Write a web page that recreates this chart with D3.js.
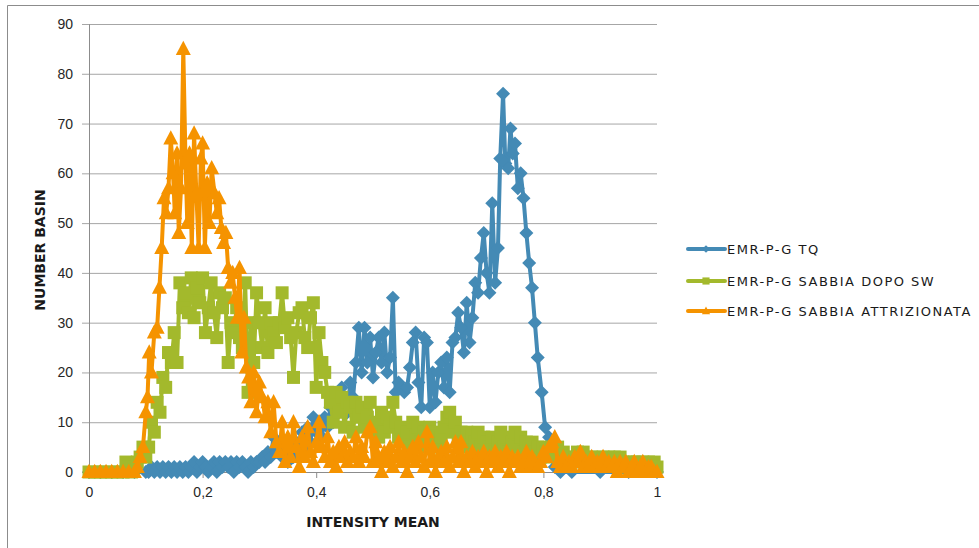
<!DOCTYPE html>
<html>
<head>
<meta charset="utf-8">
<script src="https://cdn.jsdelivr.net/npm/d3@7"></script>
<style>
  html, body { margin: 0; padding: 0; background: #fff; }
  svg { display: block; font-family: "DejaVu Sans", Verdana, sans-serif; }
</style>
</head>
<body>
<div id="chart"></div>
<script>
// ===========================
// Intensity mean vs number of basins, three samples
// ===========================

const seriesNames = ['EMR-P-G TQ', 'EMR-P-G SABBIA DOPO SW', 'EMR-P-G SABBIA ATTRIZIONATA'];
const xTicks = [0, 0.2, 0.4, 0.6, 0.8, 1];
const yTicks = [0, 10, 20, 30, 40, 50, 60, 70, 80, 90];

// [intensity mean, number of basins]
const tqData = [
    [0,0],[0.02,0],[0.04,0],[0.06,0],[0.08,0],[0.1,0],[0.105,0],[0.11,1],[0.115,0],[0.12,1],
    [0.125,0],[0.13,1],[0.135,0],[0.14,1],[0.145,0],[0.15,1],[0.155,0],[0.16,1],[0.165,0],[0.17,1],
    [0.175,0],[0.18,1],[0.185,2],[0.19,0],[0.195,1],[0.2,2],[0.205,1],[0.21,0],[0.215,1],[0.22,2],
    [0.225,0],[0.23,2],[0.235,1],[0.24,2],[0.245,1],[0.25,2],[0.255,0],[0.26,2],[0.265,1],[0.27,2],
    [0.275,1],[0.28,0],[0.285,2],[0.29,1],[0.295,2],[0.3,2],[0.305,3],[0.31,2],[0.315,4],[0.32,3],
    [0.325,7],[0.33,4],[0.335,5],[0.34,3],[0.345,4],[0.35,2],[0.355,5],[0.36,3],[0.365,6],[0.37,4],
    [0.375,8],[0.38,5],[0.385,9],[0.39,6],[0.395,11],[0.4,8],[0.405,10],[0.41,7],[0.415,11],[0.42,9],
    [0.425,13],[0.43,10],[0.435,15],[0.44,12],[0.445,17],[0.45,14],[0.455,12],[0.46,18],[0.465,15],[0.47,22],
    [0.475,29],[0.48,20],[0.485,29],[0.49,22],[0.495,27],[0.5,19],[0.505,24],[0.51,27],[0.515,22],[0.52,28],
    [0.525,20],[0.53,23],[0.535,35],[0.54,16],[0.545,18],[0.55,17],[0.555,16],[0.56,17],[0.565,21],[0.57,26],
    [0.575,28],[0.58,18],[0.585,13],[0.59,27],[0.595,26],[0.6,13],[0.605,20],[0.61,14],[0.615,20],[0.62,22],
    [0.625,17],[0.63,23],[0.635,16],[0.64,26],[0.645,27],[0.65,32],[0.655,29],[0.66,24],[0.665,34],[0.67,26],
    [0.675,31],[0.68,38],[0.685,36],[0.69,43],[0.695,48],[0.7,40],[0.705,36],[0.71,54],[0.715,38],[0.72,45],
    [0.724,63],[0.729,76],[0.733,62],[0.738,61],[0.742,69],[0.746,64],[0.75,66],[0.755,57],[0.76,60],[0.765,55],
    [0.77,48],[0.775,42],[0.78,37],[0.785,30],[0.79,23],[0.797,16],[0.803,9],[0.81,7],[0.815,3],[0.82,1],
    [0.83,0],[0.85,0],[0.9,0],[0.95,0],[1,0]
];

const dopoSwData = [
    [0,0],[0.01,0],[0.02,0],[0.03,0],[0.04,0],[0.05,0],[0.06,0],[0.065,2],[0.07,1],[0.075,0],
    [0.08,1],[0.085,2],[0.09,3],[0.095,5],[0.1,3],[0.105,5],[0.11,10],[0.115,8],[0.12,14],[0.125,12],
    [0.13,19],[0.135,17],[0.14,24],[0.145,22],[0.15,28],[0.155,22],[0.16,38],[0.165,33],[0.17,36],[0.175,32],
    [0.18,39],[0.185,31],[0.19,37],[0.195,34],[0.2,39],[0.205,28],[0.21,33],[0.215,38],[0.22,32],[0.225,27],
    [0.23,36],[0.235,33],[0.24,35],[0.245,22],[0.25,30],[0.255,28],[0.26,33],[0.265,27],[0.27,25],[0.275,38],
    [0.28,16],[0.285,30],[0.29,22],[0.295,36],[0.3,30],[0.305,25],[0.31,33],[0.315,24],[0.32,30],[0.325,28],
    [0.33,26],[0.335,30],[0.34,36],[0.345,29],[0.35,31],[0.355,27],[0.36,19],[0.365,28],[0.37,32],[0.375,33],
    [0.38,27],[0.385,25],[0.39,31],[0.395,34],[0.4,17],[0.405,28],[0.41,22],[0.415,20],[0.42,16],[0.425,14],
    [0.43,10],[0.435,16],[0.44,12],[0.445,15],[0.45,9],[0.455,14],[0.46,13],[0.465,8],[0.47,14],[0.475,11],
    [0.48,13],[0.485,9],[0.49,11],[0.495,14],[0.5,8],[0.505,10],[0.51,7],[0.515,12],[0.52,8],[0.525,11],
    [0.53,9],[0.535,14],[0.54,10],[0.545,7],[0.55,9],[0.555,6],[0.56,8],[0.565,5],[0.57,10],[0.575,7],
    [0.58,9],[0.585,6],[0.59,8],[0.595,5],[0.6,9],[0.605,6],[0.61,8],[0.615,5],[0.62,7],[0.625,9],
    [0.63,11],[0.635,12],[0.64,8],[0.645,10],[0.65,7],[0.655,8],[0.66,6],[0.665,8],[0.67,5],[0.675,7],
    [0.68,6],[0.685,8],[0.69,5],[0.695,7],[0.7,6],[0.705,5],[0.71,7],[0.715,4],[0.72,6],[0.725,8],
    [0.73,5],[0.735,7],[0.74,4],[0.745,6],[0.75,8],[0.755,5],[0.76,7],[0.765,4],[0.77,6],[0.775,5],
    [0.78,6],[0.785,4],[0.79,5],[0.795,3],[0.8,5],[0.805,4],[0.81,3],[0.815,5],[0.82,4],[0.825,5],
    [0.83,3],[0.835,4],[0.84,2],[0.845,3],[0.85,2],[0.855,3],[0.86,4],[0.865,3],[0.87,4],[0.875,3],
    [0.88,2],[0.885,3],[0.89,2],[0.895,3],[0.9,2],[0.905,3],[0.91,2],[0.915,3],[0.92,2],[0.925,3],
    [0.93,2],[0.935,3],[0.94,2],[0.945,1],[0.95,2],[0.955,1],[0.96,2],[0.965,2],[0.97,1],[0.975,2],
    [0.98,1],[0.985,2],[0.99,1],[0.995,2],[1,1]
];

const attrizionataData = [
    [0,0],[0.01,0],[0.02,0],[0.03,0],[0.04,0],[0.05,0],[0.06,0],[0.07,0],[0.08,0],[0.085,1],
    [0.09,3],[0.095,5],[0.1,12],[0.103,15],[0.106,24],[0.11,20],[0.115,28],[0.12,29],[0.124,37],[0.128,45],
    [0.132,55],[0.136,52],[0.14,57],[0.144,67],[0.148,60],[0.151,52],[0.155,64],[0.158,48],[0.162,57],[0.166,85],
    [0.17,62],[0.173,50],[0.177,64],[0.181,45],[0.185,68],[0.189,56],[0.193,45],[0.197,63],[0.2,66],[0.204,45],
    [0.208,58],[0.212,50],[0.216,61],[0.221,56],[0.225,52],[0.229,55],[0.233,49],[0.237,46],[0.241,48],[0.245,41],
    [0.249,38],[0.253,40],[0.257,35],[0.261,31],[0.265,41],[0.269,24],[0.273,31],[0.277,21],[0.281,19],[0.285,14],
    [0.29,20],[0.295,12],[0.3,18],[0.305,15],[0.31,11],[0.315,14],[0.32,8],[0.325,14],[0.33,6],[0.335,4],
    [0.34,10],[0.345,2],[0.35,7],[0.355,3],[0.36,10],[0.365,5],[0.37,1],[0.375,7],[0.38,3],[0.385,9],
    [0.39,4],[0.395,2],[0.4,6],[0.405,10],[0.41,5],[0.415,3],[0.42,7],[0.425,2],[0.43,4],[0.435,1],
    [0.44,5],[0.445,3],[0.45,6],[0.455,2],[0.46,4],[0.465,3],[0.47,7],[0.475,2],[0.48,5],[0.485,3],
    [0.49,8],[0.495,9],[0.5,2],[0.505,6],[0.51,3],[0.515,0],[0.52,4],[0.525,2],[0.53,5],[0.535,1],
    [0.54,3],[0.545,6],[0.55,2],[0.555,4],[0.56,0],[0.565,3],[0.57,5],[0.575,2],[0.58,6],[0.585,3],
    [0.59,1],[0.595,8],[0.6,2],[0.605,5],[0.61,0],[0.615,3],[0.62,4],[0.625,2],[0.63,5],[0.635,1],
    [0.64,3],[0.645,6],[0.65,2],[0.655,6],[0.66,0],[0.665,3],[0.67,2],[0.675,4],[0.68,1],[0.685,3],
    [0.69,2],[0.695,4],[0.7,0],[0.705,3],[0.71,2],[0.715,4],[0.72,1],[0.725,3],[0.73,2],[0.735,4],
    [0.74,0],[0.745,3],[0.75,2],[0.755,3],[0.76,1],[0.765,2],[0.77,4],[0.775,1],[0.78,3],[0.785,2],
    [0.79,1],[0.795,2],[0.8,4],[0.805,3],[0.81,5],[0.815,6],[0.82,7],[0.825,2],[0.83,1],[0.835,3],
    [0.84,1],[0.845,2],[0.85,1],[0.855,3],[0.86,2],[0.865,4],[0.87,1],[0.875,2],[0.88,1],[0.885,3],
    [0.89,1],[0.895,2],[0.9,1],[0.905,3],[0.91,1],[0.915,2],[0.92,1],[0.925,2],[0.93,0],[0.935,2],
    [0.94,1],[0.945,2],[0.95,0],[0.955,1],[0.96,2],[0.965,0],[0.97,1],[0.975,2],[0.98,0],[0.985,1],
    [0.99,1],[0.995,0],[1,0]
];

const colors = ['#448ab5', '#a3b92c', '#f59300'];

// marker paths, centred on 0,0
const markerPath = {
    diamond: s => `M0,${-s}L${s},0L0,${s}L${-s},0Z`,
    square: s => `M${-s},${-s}H${s}V${s}H${-s}Z`,
    triangle: s => `M0,${-s * 1.1}L${s},${s * 0.8}L${-s},${s * 0.8}Z`
};

const series = [
    { name: seriesNames[0], data: tqData, color: colors[0], marker: 'diamond', size: 7 },
    { name: seriesNames[1], data: dopoSwData, color: colors[1], marker: 'square', size: 6.5 },
    { name: seriesNames[2], data: attrizionataData, color: colors[2], marker: 'triangle', size: 7.5 }
];

const width = 979, height = 548;
const plot = { left: 89, right: 657, top: 24, bottom: 472 };

const svg = d3.select('#chart').append('svg')
    .attr('width', width)
    .attr('height', height);

// outer frame (only top and left edges show in the crop)
svg.append('path')
    .attr('d', `M7.5,${height}V5.5H${width}`)
    .attr('fill', 'none')
    .attr('stroke', '#8c8c8c')
    .attr('stroke-width', 1);

const x = d3.scaleLinear().domain([0, 1]).range([plot.left, plot.right]);
const y = d3.scaleLinear().domain([0, 90]).range([plot.bottom, plot.top]);

const it = d3.formatLocale({ decimal: ',', thousands: '.', grouping: [3], currency: ['', '€'] });
const fmt = it.format('~g');

// ── Grid ──────────────────────────────────────────────────────────────
svg.append('g')
    .attr('transform', `translate(${plot.left},0)`)
    .call(d3.axisLeft(y).tickValues(yTicks).tickSize(-(plot.right - plot.left)).tickFormat(''))
    .call(g => g.select('.domain').remove())
    .selectAll('line')
    .attr('stroke', '#a6a6a6');

// ── Axes ──────────────────────────────────────────────────────────────
const yAxis = svg.append('g')
    .attr('transform', `translate(${plot.left},0)`)
    .call(d3.axisLeft(y).tickValues(yTicks).tickSize(7).tickPadding(9).tickFormat(fmt));
yAxis.select('.domain').attr('stroke', '#8c8c8c');
yAxis.selectAll('line').attr('stroke', '#a6a6a6');
yAxis.selectAll('text')
    .style('font-size', '14px')
    .attr('fill', '#262626');

const xAxis = svg.append('g')
    .attr('transform', `translate(0,${plot.bottom})`)
    .call(d3.axisBottom(x).tickValues(xTicks).tickSize(6).tickPadding(9).tickFormat(fmt));
xAxis.select('.domain').attr('stroke', '#8c8c8c');
xAxis.selectAll('line').attr('stroke', '#8c8c8c');
xAxis.selectAll('text')
    .style('font-size', '14px')
    .attr('fill', '#262626');

svg.append('text')
    .attr('x', (plot.left + plot.right) / 2)
    .attr('y', 527)
    .attr('text-anchor', 'middle')
    .style('font-size', '14px')
    .style('font-weight', 'bold')
    .attr('fill', '#1a1a1a')
    .text('INTENSITY MEAN');

svg.append('text')
    .attr('transform', 'translate(45,250) rotate(-90)')
    .attr('text-anchor', 'middle')
    .style('font-size', '14px')
    .style('font-weight', 'bold')
    .attr('fill', '#1a1a1a')
    .text('NUMBER BASIN');

// ── Series ────────────────────────────────────────────────────────────
const line = d3.line().x(d => x(d[0])).y(d => y(d[1]));

series.forEach(s => {
    const g = svg.append('g');
    g.append('path')
        .datum(s.data)
        .attr('d', line)
        .attr('fill', 'none')
        .attr('stroke', s.color)
        .attr('stroke-width', 4)
        .attr('stroke-linejoin', 'round');

    g.selectAll('path.marker')
        .data(s.data)
        .join('path')
        .attr('class', 'marker')
        .attr('transform', d => `translate(${x(d[0])},${y(d[1])})`)
        .attr('d', markerPath[s.marker](s.size))
        .attr('fill', s.color);
});

// ── Legend ────────────────────────────────────────────────────────────
const legendY = [249, 281, 311];
const legend = svg.append('g');
series.forEach((s, i) => {
    const row = legend.append('g').attr('transform', `translate(0,${legendY[i]})`);
    row.append('line')
        .attr('x1', 688).attr('x2', 725)
        .attr('stroke', s.color)
        .attr('stroke-width', 4)
        .attr('stroke-linecap', 'round');
    row.append('path')
        .attr('transform', 'translate(706,0)')
        .attr('d', markerPath[s.marker](s.size * 0.55))
        .attr('fill', s.color);
    row.append('text')
        .attr('x', 727)
        .attr('dy', '0.35em')
        .style('font-size', '13px')
        .style('letter-spacing', '1.5px')
        .attr('fill', '#1a1a1a')
        .text(s.name);
});
</script>
</body>
</html>
